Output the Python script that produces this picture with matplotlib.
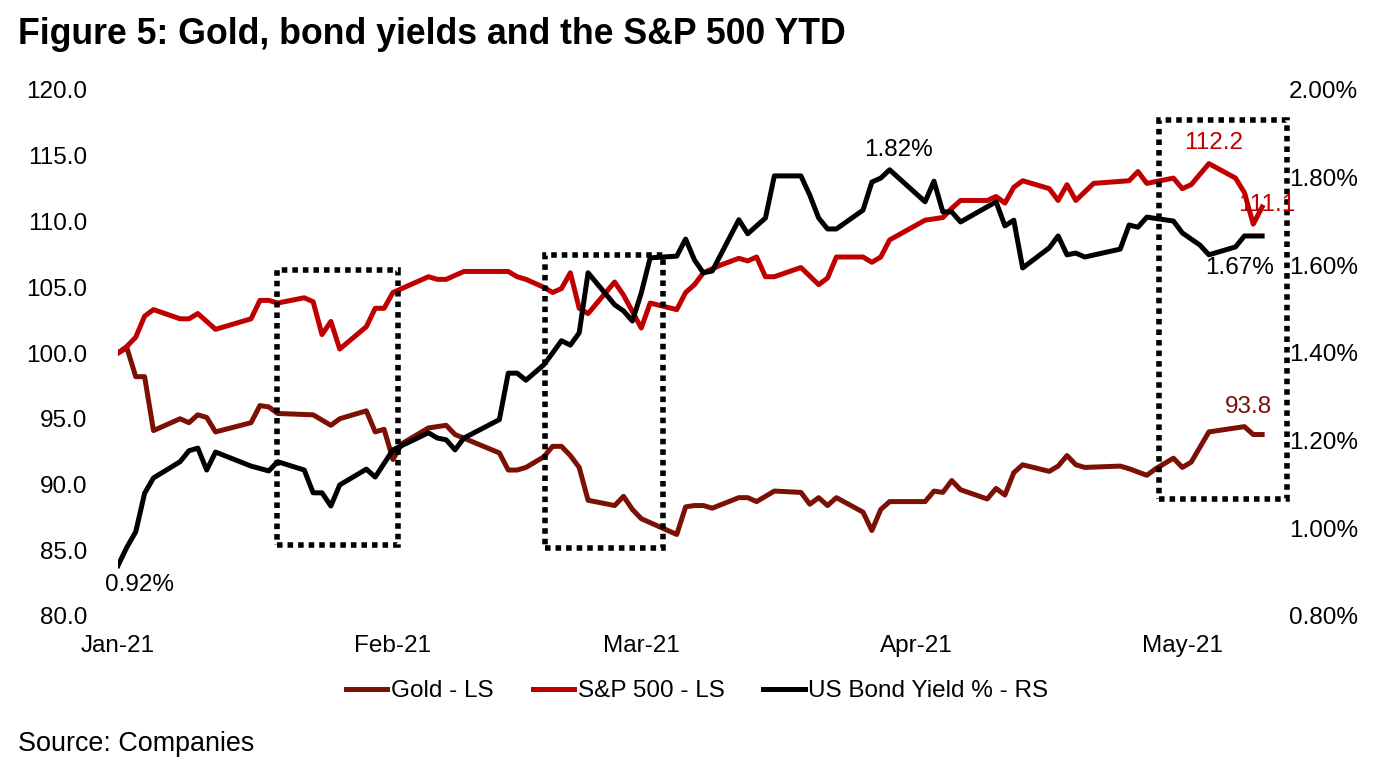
import pandas as pd
import matplotlib
matplotlib.use("Agg")
import matplotlib.pyplot as plt
import matplotlib.dates as mdates
from matplotlib.ticker import FuncFormatter, MultipleLocator
from matplotlib.patches import Rectangle

plt.rcParams['font.family'] = ['Liberation Sans', 'DejaVu Sans']

# S&P 500 rebased to 100 (left scale)
spx_dates = ["01-01", "01-02", "01-03", "01-04", "01-05", "01-08", "01-09", "01-10", "01-12",
             "01-16", "01-17", "01-18", "01-19", "01-22", "01-23", "01-24", "01-25", "01-26",
             "01-29", "01-30", "01-31", "02-01", "02-05", "02-06", "02-07", "02-08", "02-09",
             "02-14", "02-15", "02-16", "02-18", "02-19", "02-20", "02-21", "02-22", "02-23",
             "02-26", "02-27", "03-01", "03-02", "03-05", "03-06", "03-07", "03-08", "03-10",
             "03-12", "03-13", "03-14", "03-15", "03-16", "03-19", "03-21", "03-22", "03-23",
             "03-26", "03-27", "03-28", "03-29", "04-02", "04-04", "04-05", "04-06", "04-09",
             "04-10", "04-11", "04-12", "04-13", "04-16", "04-17", "04-18", "04-19", "04-21",
             "04-25", "04-26", "04-27", "04-30", "05-01", "05-02", "05-04", "05-07", "05-08",
             "05-09", "05-10"]
spx = [100.0, 100.5, 101.2, 102.8, 103.3, 102.6, 102.6, 103.0, 101.8,
       102.6, 104.0, 104.0, 103.8, 104.2, 103.9, 101.4, 102.4, 100.3,
       102.0, 103.4, 103.4, 104.6, 105.8, 105.6, 105.6, 105.9, 106.2,
       106.2, 105.8, 105.6, 105.0, 104.6, 104.9, 106.1, 103.4, 103.0,
       105.4, 104.4, 101.9, 103.8, 103.3, 104.6, 105.2, 106.1, 106.7,
       107.2, 107.0, 107.3, 105.8, 105.8, 106.5, 105.2, 105.7, 107.3,
       107.3, 106.9, 107.3, 108.6, 110.1, 110.3, 111.0, 111.6, 111.6,
       111.9, 111.4, 112.6, 113.1, 112.5, 111.6, 112.8, 111.6, 112.9,
       113.1, 113.8, 112.9, 113.3, 112.5, 112.8, 114.4, 113.3, 112.2,
       109.8, 111.1]

# Gold rebased to 100 (left scale)
gold_dates = ["01-01", "01-02", "01-03", "01-04", "01-05", "01-08", "01-09", "01-10", "01-11",
              "01-12", "01-16", "01-17", "01-18", "01-19", "01-23", "01-25", "01-26", "01-29",
              "01-30", "01-31", "02-01", "02-02", "02-05", "02-07", "02-08", "02-13", "02-14",
              "02-15", "02-16", "02-18", "02-19", "02-20", "02-21", "02-22", "02-23", "02-26",
              "02-27", "02-28", "03-01", "03-03", "03-05", "03-06", "03-07", "03-08", "03-09",
              "03-12", "03-13", "03-14", "03-16", "03-19", "03-20", "03-21", "03-22", "03-23",
              "03-26", "03-27", "03-28", "03-29", "04-02", "04-03", "04-04", "04-05", "04-06",
              "04-09", "04-10", "04-11", "04-12", "04-13", "04-16", "04-17", "04-18", "04-19",
              "04-20", "04-24", "04-25", "04-27", "04-28", "04-30", "05-01", "05-02", "05-04",
              "05-08", "05-09", "05-10"]
gold = [100.0, 100.4, 98.2, 98.2, 94.1, 95.0, 94.7, 95.3, 95.1,
        94.0, 94.7, 96.0, 95.9, 95.4, 95.3, 94.5, 95.0, 95.6,
        94.0, 94.2, 91.9, 93.1, 94.3, 94.5, 93.8, 92.4, 91.1,
        91.1, 91.3, 92.1, 92.9, 92.9, 92.2, 91.3, 88.8, 88.4,
        89.1, 88.1, 87.4, 86.8, 86.2, 88.3, 88.4, 88.4, 88.2,
        89.0, 89.0, 88.7, 89.5, 89.4, 88.5, 89.0, 88.4, 89.0,
        87.9, 86.5, 88.1, 88.7, 88.7, 89.5, 89.4, 90.3, 89.6,
        88.9, 89.7, 89.2, 90.9, 91.5, 91.0, 91.4, 92.2, 91.5,
        91.3, 91.4, 91.2, 90.7, 91.2, 92.0, 91.3, 91.7, 94.0,
        94.4, 93.8, 93.8]

# US 10y bond yield, % (right scale)
yld_dates = ["01-01", "01-02", "01-03", "01-04", "01-05", "01-08", "01-09", "01-10", "01-11",
             "01-12", "01-16", "01-18", "01-19", "01-22", "01-23", "01-24", "01-25", "01-26",
             "01-29", "01-30", "02-01", "02-05", "02-06", "02-07", "02-08", "02-09", "02-13",
             "02-14", "02-15", "02-16", "02-18", "02-19", "02-20", "02-21", "02-22", "02-23",
             "02-26", "02-27", "02-28", "03-01", "03-02", "03-05", "03-06", "03-07", "03-08",
             "03-09", "03-12", "03-13", "03-15", "03-16", "03-19", "03-20", "03-21", "03-22",
             "03-23", "03-26", "03-27", "03-28", "03-29", "04-02", "04-03", "04-04", "04-05",
             "04-06", "04-10", "04-11", "04-12", "04-13", "04-16", "04-17", "04-18", "04-19",
             "04-20", "04-24", "04-25", "04-26", "04-27", "04-30", "05-01", "05-02", "05-03",
             "05-04", "05-07", "05-08", "05-10"]
yld = [0.915, 0.957, 0.992, 1.080, 1.115, 1.152, 1.177, 1.183, 1.133,
       1.174, 1.142, 1.131, 1.152, 1.133, 1.081, 1.081, 1.051, 1.099,
       1.135, 1.117, 1.179, 1.218, 1.206, 1.202, 1.179, 1.206, 1.248,
       1.354, 1.354, 1.338, 1.373, 1.400, 1.428, 1.418, 1.446, 1.583,
       1.510, 1.496, 1.473, 1.537, 1.617, 1.621, 1.660, 1.612, 1.583,
       1.587, 1.704, 1.672, 1.708, 1.804, 1.804, 1.760, 1.708, 1.683,
       1.683, 1.726, 1.790, 1.799, 1.818, 1.745, 1.792, 1.722, 1.722,
       1.699, 1.745, 1.690, 1.703, 1.594, 1.640, 1.667, 1.624, 1.628,
       1.619, 1.637, 1.692, 1.687, 1.710, 1.701, 1.674, 1.660, 1.646,
       1.624, 1.642, 1.667, 1.667]

def to_dates(days):
    return pd.to_datetime(["2021-" + d for d in days])

RED = "#C00000"
GOLD = "#7B1005"
LW = 3.6

fig = plt.figure(figsize=(13.89, 7.75), dpi=100)
ax = fig.add_axes([118 / 1389, 1 - 616 / 775, 1153 / 1389, 526 / 775])
ax2 = ax.twinx()

l1, = ax.plot(to_dates(gold_dates), gold, color=GOLD, lw=LW, label="Gold - LS")
l2, = ax.plot(to_dates(spx_dates), spx, color=RED, lw=LW, label="S&P 500 - LS")
l3, = ax2.plot(to_dates(yld_dates), yld, color="black", lw=LW, label="US Bond Yield % - RS")

ax.set_xlim(pd.Timestamp("2021-01-01"), pd.Timestamp("2021-05-11"))
ax.set_ylim(80, 120)
ax2.set_ylim(0.8, 2.0)
ax.yaxis.set_major_locator(MultipleLocator(5))
ax.yaxis.set_major_formatter(FuncFormatter(lambda v, p: f"{v:.1f}"))
ax2.yaxis.set_major_locator(MultipleLocator(0.2))
ax2.yaxis.set_major_formatter(FuncFormatter(lambda v, p: f"{v:.2f}%"))
ax.xaxis.set_major_locator(mdates.MonthLocator())
ax.xaxis.set_major_formatter(mdates.DateFormatter("%b-%y"))

for a in (ax, ax2):
    for s in a.spines.values():
        s.set_visible(False)
ax.tick_params(axis="x", length=0, pad=14, labelsize=17.5)
ax.tick_params(axis="y", length=0, pad=22, labelsize=17.5)
ax2.tick_params(axis="y", length=0, pad=13, labelsize=17.5)

# dotted highlight boxes
boxes = [(0.138, 0.135, 0.105, 0.523), (0.370, 0.129, 0.103, 0.557), (0.903, 0.222, 0.111, 0.721)]
for bx, by, bw, bh in boxes:
    ax2.add_patch(Rectangle((bx, by), bw, bh, transform=ax2.transAxes, fill=False,
                            ec="black", lw=4, ls=(0, (1, 0.9)), clip_on=False, zorder=5))

# value labels
fs = 17.5
fig.text(139 / 1389, 1 - 585 / 775, "0.92%", ha="center", va="center", fontsize=fs)
fig.text(899 / 1389, 1 - 150 / 775, "1.82%", ha="center", va="center", fontsize=fs)
fig.text(1214 / 1389, 1 - 143 / 775, "112.2", ha="center", va="center", fontsize=fs, color=RED)
fig.text(1238 / 1389, 1 - 205 / 775, "111.1", ha="left", va="center", fontsize=fs, color=RED)
fig.text(1248 / 1389, 1 - 407 / 775, "93.8", ha="center", va="center", fontsize=fs, color=GOLD)
fig.text(1240 / 1389, 1 - 268 / 775, "1.67%", ha="center", va="center", fontsize=fs)

fig.text(18 / 1389, 1 - 44 / 775, "Figure 5: Gold, bond yields and the S&P 500 YTD",
         fontsize=25.7, fontweight="bold", va="baseline", ha="left")
fig.text(18 / 1389, 1 - 751 / 775, "Source: Companies", fontsize=19.4, va="baseline", ha="left")

fig.legend(handles=[l1, l2, l3], loc="center", bbox_to_anchor=(0.502, 1 - 691 / 775),
           ncol=3, frameon=False, fontsize=17.5, handlelength=1.7, handletextpad=0.15,
           columnspacing=1.6)

fig.savefig("out.png", dpi=100)
